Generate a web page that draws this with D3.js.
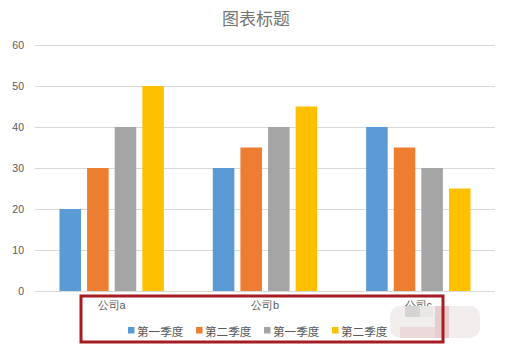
<!DOCTYPE html>
<html><head><meta charset="utf-8">
<script src="https://cdn.jsdelivr.net/npm/d3@7"></script>
<style>body{margin:0;background:#fff;}svg{display:block;font-family:"Noto Sans CJK SC","Noto Sans",sans-serif;}</style>
</head><body><svg id="c" width="515" height="357"></svg>
<script>
const title = "图表标题";
const categories = ["公司a","公司b","公司c"];
const seriesNames = ["第一季度","第二季度","第一季度","第二季度"];
const s1 = [20,30,40];
const s2 = [30,35,35];
const s3 = [40,40,30];
const s4 = [50,45,25];
const seriesValues = [s1,s2,s3,s4];
const colors = ["#5B9BD5","#ED7D31","#A5A5A5","#FFC000"];
const yTicks = [0,10,20,30,40,50,60];

const svg = d3.select("#c");
const m = {l:35, r:20, t:45, b:66};
const W = 515, H = 357;
const x0 = d3.scaleBand().domain(categories).range([m.l, W-m.r]).padding(0);
const x1 = d3.scaleBand().domain(d3.range(seriesNames.length)).range([0, x0.bandwidth()]).paddingInner(0.22).paddingOuter(0.886);
const y = d3.scaleLinear().domain([0,60]).range([H-m.b, m.t]);

// title
svg.append("text").attr("x",256).attr("y",25).attr("text-anchor","middle")
  .attr("font-size",17).attr("fill","#757575").text(title);

// grid
const yAxis = d3.axisLeft(y).tickValues(yTicks).tickSize(-(W-m.l-m.r)).tickPadding(11);
const ga = svg.append("g").attr("transform",`translate(${m.l},0)`).call(yAxis);
ga.select(".domain").remove();
ga.selectAll(".tick line").attr("stroke","#d9d9d9").attr("stroke-width",1);
ga.selectAll(".tick text").attr("fill","#595959").attr("font-size",10.5).attr("font-family","Liberation Sans, sans-serif");

// bars
const g = svg.append("g");
categories.forEach((c,ci)=>{
  seriesValues.forEach((vals,si)=>{
    g.append("rect")
      .attr("x", x0(c)+x1(si))
      .attr("width", x1.bandwidth())
      .attr("y", y(vals[ci]))
      .attr("height", y(0)-y(vals[ci]))
      .attr("fill", colors[si]);
  });
});

// category labels
const xAxis = d3.axisBottom(x0).tickSize(0).tickPadding(10);
const gx = svg.append("g").attr("transform",`translate(0,${y(0)})`).call(xAxis);
gx.select(".domain").remove();
gx.selectAll(".tick text").attr("fill","#595959").attr("font-size",11);

// legend
const legendX = [128,196,264,332];
const lg = svg.append("g");
seriesNames.forEach((n,i)=>{
  lg.append("rect").attr("x",legendX[i]).attr("y",327).attr("width",6.5).attr("height",6.5).attr("fill",colors[i]);
  lg.append("text").attr("x",legendX[i]+9).attr("y",335.5).attr("font-size",11.6).attr("fill","#595959").text(n);
});

// blur artifact over third label
const blur = svg.append("g");
blur.append("rect").attr("x",390).attr("y",306).attr("width",90).attr("height",32).attr("rx",10).attr("fill","#f3eeee");
blur.append("rect").attr("x",405).attr("y",306).attr("width",15).attr("height",11).attr("fill","#d6d3d3");
blur.append("rect").attr("x",420).attr("y",306).attr("width",13).attr("height",11).attr("fill","#e9e6e6");
blur.append("rect").attr("x",435).attr("y",306).attr("width",14).attr("height",32).attr("fill","#e8cdce");
blur.append("rect").attr("x",400).attr("y",327).attr("width",35).attr("height",11).attr("fill","#ecd9da");

// red annotation box
svg.append("rect").attr("x",81).attr("y",296).attr("width",362).attr("height",46)
  .attr("fill","none").attr("stroke","#a51d22").attr("stroke-width",3);
</script></body></html>
